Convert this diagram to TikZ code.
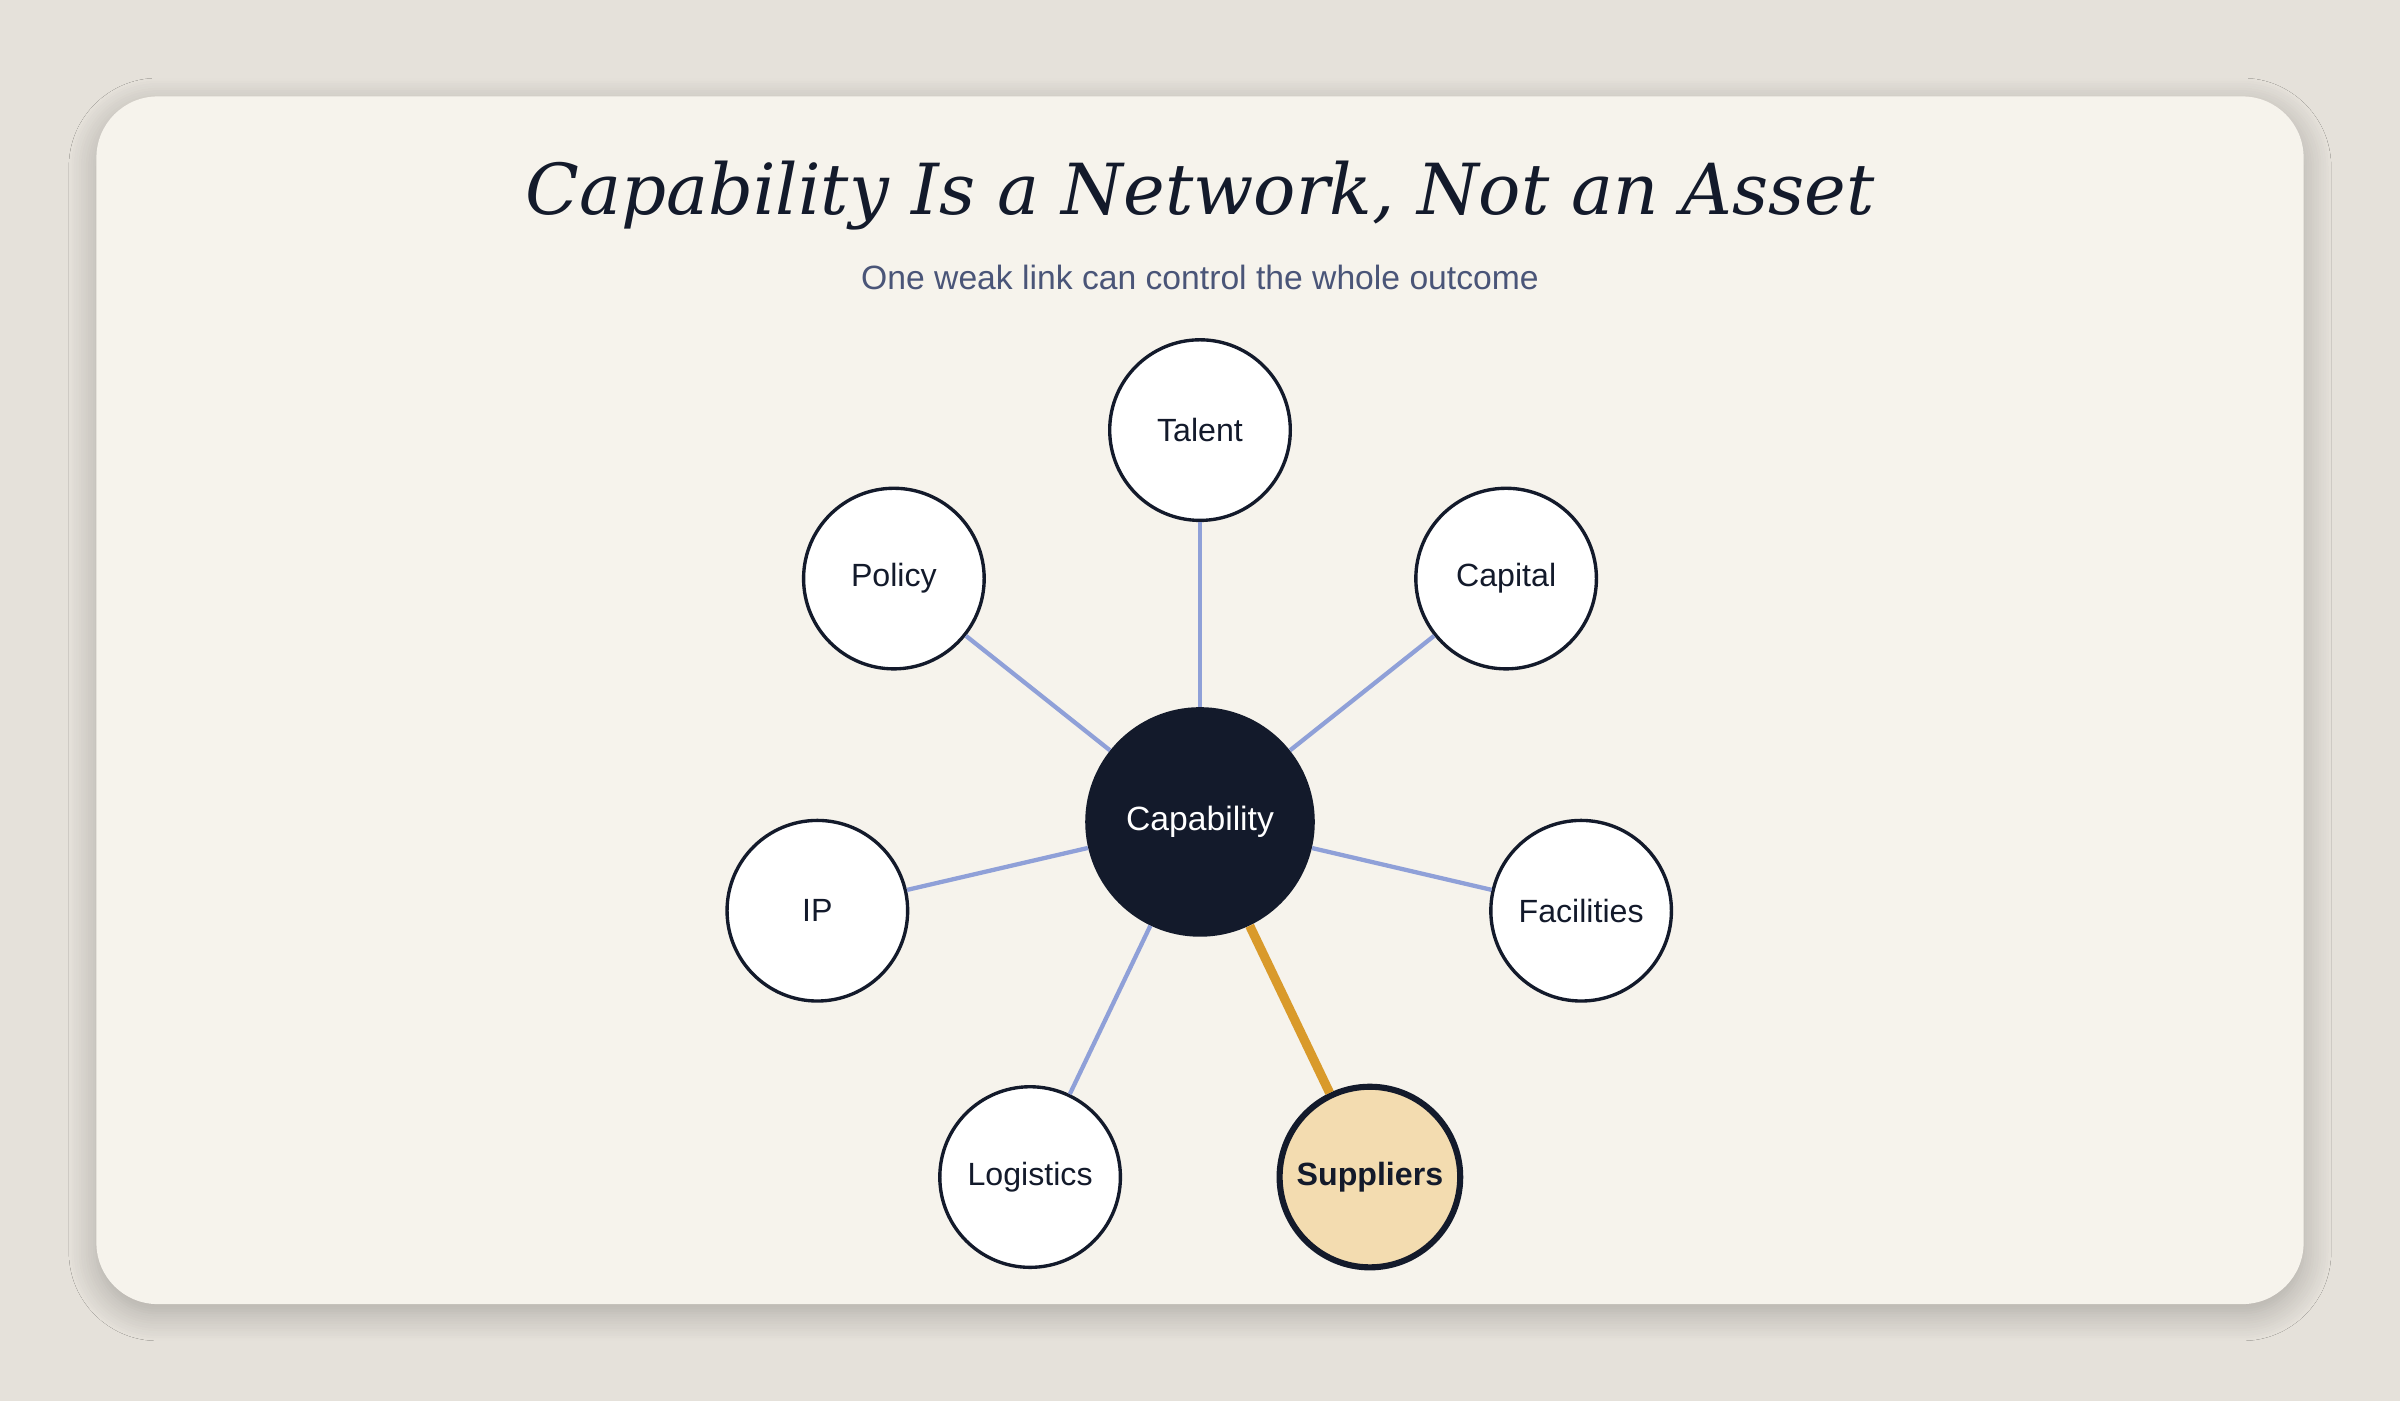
\documentclass[tikz,border=0pt]{standalone}
\usepackage{fontspec}
\setmainfont{Liberation Sans}
\newfontfamily\titlefont{DejaVu Serif}
\usetikzlibrary{shadows.blur}
\definecolor{bg}{HTML}{E5E1DA}
\definecolor{card}{HTML}{F6F3EC}
\definecolor{ink}{HTML}{131A2B}
\definecolor{sub}{HTML}{4A5578}
\definecolor{edge}{HTML}{8FA0D8}
\definecolor{gold}{HTML}{D99A2B}
\definecolor{sfill}{HTML}{F3DCB0}
\begin{document}
\begin{tikzpicture}[x=1pt,y=-1pt,
  leaf/.style={circle,draw=ink,line width=2.2pt,fill=white,minimum size=118pt,inner sep=0pt,text=ink,font=\fontsize{21}{24}\selectfont},
  hub/.style={circle,fill=ink,minimum size=150pt,inner sep=0pt,text=white,font=\fontsize{22}{26}\selectfont},
  link/.style={draw=edge,line width=2.8pt},
  weak/.style={draw=gold,line width=6pt}]
\fill[bg] (0,0) rectangle (1568,915);
\useasboundingbox (0,0) rectangle (1568,915);
\fill[card,rounded corners=40pt,blur shadow={shadow blur steps=12,shadow xshift=0pt,shadow yshift=-6pt,shadow blur radius=18pt,shadow opacity=25}] (63,63) rectangle (1505,852);
\node[font=\titlefont\itshape\fontsize{46}{52}\selectfont,text=ink] (title) at (784,128) {Capability Is a Network, Not an Asset};
\node[font=\fontsize{22}{26}\selectfont,text=sub] (subtitle) at (784,181) {One weak link can control the whole outcome};
\node[hub] (c) at (784,537) {Capability};
\node[leaf] (talent) at (784,281) {Talent};
\node[leaf] (capital) at (984,378) {Capital};
\node[leaf] (fac) at (1033,595) {Facilities};
\node[leaf,fill=sfill,line width=4pt,font=\bfseries\fontsize{21}{24}\selectfont] (sup) at (895,769) {Suppliers};
\node[leaf] (log) at (673,769) {Logistics};
\node[leaf] (ip) at (534,595) {IP};
\node[leaf] (pol) at (584,378) {Policy};
\begin{scope}[on background layer/.style={}]
\end{scope}
\draw[link] (c) -- (talent);
\draw[link] (c) -- (capital);
\draw[link] (c) -- (fac);
\draw[link] (c) -- (log);
\draw[link] (c) -- (ip);
\draw[link] (c) -- (pol);
\draw[weak] (c) -- (sup);
\end{tikzpicture}
\end{document}
